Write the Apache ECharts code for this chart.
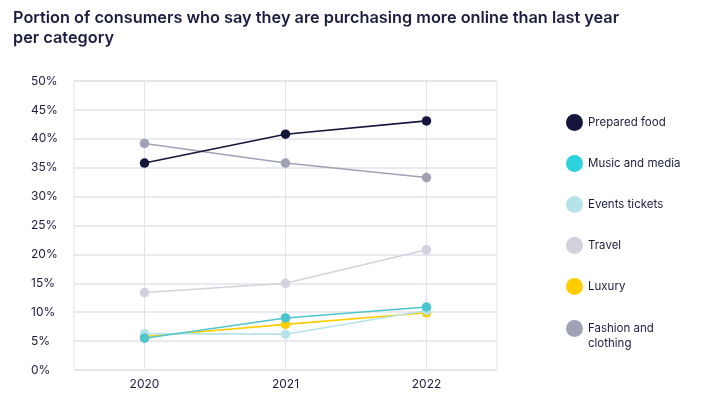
<!DOCTYPE html>
<html>
<head>
<meta charset="utf-8">
<script src="https://cdn.jsdelivr.net/npm/echarts@6/dist/echarts.min.js"></script>
<style>
  html, body { margin: 0; padding: 0; background: #fff; }
  #chart { width: 705px; height: 399px; }
</style>
</head>
<body>
<div id="chart"></div>
<script>
// values (percent)
var years = ['2020', '2021', '2022'];
var preparedFood = [35.8, 40.8, 43.1];
var musicMedia = [5.5, 9.0, 10.9];
var eventsTickets = [6.3, 6.2, 10.3];
var travel = [13.4, 15.0, 20.8];
var luxury = [5.8, 7.9, 9.9];
var fashionClothing = [39.2, 35.8, 33.3];

var names = ['Prepared food', 'Music and media', 'Events tickets', 'Travel', 'Luxury', 'Fashion and clothing'];
var colors = ['#14163c', '#2cd3dc', '#b6e3ea', '#d2d2dc', '#ffcc00', '#9fa1b4'];
var lineColors = ['#14163c', '#4cc6cc', '#b6e3ea', '#d2d2dc', '#ffcc00', '#9fa1b4'];
var allData = [preparedFood, musicMedia, eventsTickets, travel, luxury, fashionClothing];

var navy = '#1b1d40';
var myChart = echarts.init(document.getElementById('chart'));

var series = [];
for (var i = 0; i < names.length; i++) {
    series.push({
        name: names[i],
        type: 'line',
        data: allData[i],
        symbol: 'circle',
        symbolSize: 9.5,
        color: colors[i],
        lineStyle: { width: 1.6, color: lineColors[i] },
        itemStyle: { color: lineColors[i] },
        z: 10 - i
    });
}

var legendText = { fontFamily: 'Inter', fontSize: 11.5, color: navy, lineHeight: 15 };

var option = {
    animation: false,
    title: {
        text: 'Portion of consumers who say they are purchasing more online than last year\nper category',
        left: 8,
        top: 3,
        textStyle: {
            fontFamily: 'Inter',
            fontSize: 16.3,
            fontWeight: 600,
            color: navy,
            lineHeight: 20
        }
    },
    legend: [{
        orient: 'vertical',
        left: 566,
        top: 114,
        padding: 0,
        itemWidth: 17,
        itemHeight: 17,
        itemGap: 24,
        icon: 'circle',
        textStyle: legendText,
        data: names.slice(0, 5).map(function (n, i) {
            return { name: n, itemStyle: { color: colors[i] } };
        })
    }, {
        // blank first line keeps the icon level with "Fashion and"
        orient: 'vertical',
        left: 566,
        top: 306,
        padding: 0,
        itemWidth: 17,
        itemHeight: 17,
        icon: 'circle',
        textStyle: legendText,
        formatter: function () { return ' \nFashion and\nclothing'; },
        data: [{ name: names[5], itemStyle: { color: colors[5] } }]
    }],
    grid: {
        left: 74,
        right: 208,
        top: 81,
        bottom: 29,
        show: true,
        borderColor: '#e2e2ea',
        borderWidth: 1
    },
    xAxis: {
        type: 'category',
        data: years,
        boundaryGap: true,
        axisLine: { show: false },
        axisTick: { show: false, alignWithLabel: true },
        axisLabel: { color: navy, fontFamily: 'Inter', fontSize: 12, margin: 8 },
        splitLine: { show: true, alignWithLabel: true, lineStyle: { color: '#e2e2ea', width: 1 } }
    },
    yAxis: {
        type: 'value',
        min: 0,
        max: 50,
        interval: 5,
        axisLine: { show: false },
        axisTick: { show: false },
        axisLabel: {
            color: navy,
            fontFamily: 'Inter',
            fontSize: 12,
            align: 'left',
            margin: 43,
            formatter: '{value}%'
        },
        splitLine: { lineStyle: { color: '#e2e2ea', width: 1.5 } }
    },
    series: series
};

myChart.setOption(option);
</script>
</body>
</html>
